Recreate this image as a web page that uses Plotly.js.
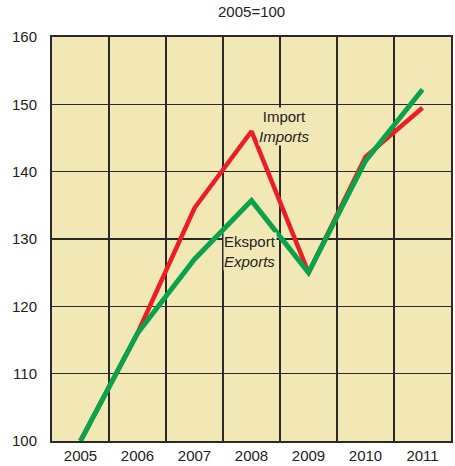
<!DOCTYPE html>
<html>
<head>
<meta charset="utf-8">
<script src="https://cdn.plot.ly/plotly-3.0.1.min.js"></script>
<style>html,body{margin:0;padding:0;background:#fff;}</style>
</head>
<body>
<div id="chart" style="width:455px;height:466px;"></div>
<script>
const years = ["2005","2006","2007","2008","2009","2010","2011"];
const imports = [100, 116, 134.6, 146, 125, 142.2, 149.5];
const exports_ = [100, 116, 127, 135.7, 125, 141.6, 152.2];
const yTicks = [100, 110, 120, 130, 140, 150, 160];

const FONT = "'Liberation Sans Narrow', 'Arial Narrow', 'Liberation Sans', Arial, sans-serif";
const BG = '#f1e8b6';

const traces = [
  {x: years, y: imports, type: 'scatter', mode: 'lines', name: 'Import',
   line: {color: '#ee1c25', width: 4.5}, hoverinfo: 'skip'},
  {x: years, y: exports_, type: 'scatter', mode: 'lines', name: 'Eksport',
   line: {color: '#0aa24b', width: 5}, hoverinfo: 'skip'}
];

const layout = {
  width: 455, height: 466,
  margin: {l: 52, r: 4, t: 37, b: 25},
  paper_bgcolor: '#ffffff',
  plot_bgcolor: BG,
  showlegend: false,
  font: {family: FONT, size: 15, color: '#222'},
  title: {text: '2005=100', x: 0.553, xanchor: 'center', y: 0.985, yanchor: 'top',
          font: {family: FONT, size: 15, color: '#222'}},
  xaxis: {
    type: 'category', range: [-0.5, 6.5], tickson: 'boundaries',
    showgrid: true, gridcolor: '#2a2a2a', gridwidth: 1.3,
    showline: true, linecolor: '#2a2a2a', linewidth: 2, mirror: true,
    ticks: 'outside', ticklen: 5, tickcolor: 'rgba(0,0,0,0)',
    tickfont: {family: FONT, size: 15, color: '#222'},
    zeroline: false, fixedrange: true
  },
  yaxis: {
    range: [100, 160], tickvals: yTicks, ticktext: yTicks.map(String),
    showgrid: true, gridcolor: '#2a2a2a', gridwidth: 1.3,
    showline: true, linecolor: '#2a2a2a', linewidth: 2, mirror: true,
    ticks: 'outside', ticklen: 10, tickcolor: 'rgba(0,0,0,0)',
    tickfont: {family: FONT, size: 15, color: '#222'},
    zeroline: false, fixedrange: true
  },
  annotations: [
    {x: 3.58, y: 146.7, xref: 'x', yref: 'y', text: 'Import<br><i>Imports</i>',
     showarrow: false, bgcolor: BG, borderpad: 0,
     font: {family: FONT, size: 15, color: '#222'}, align: 'center'},
    {x: 2.97, y: 128.2, xref: 'x', yref: 'y', text: 'Eksport<br><i>Exports</i>',
     showarrow: false, bgcolor: BG, borderpad: 0,
     font: {family: FONT, size: 15, color: '#222'}, align: 'center'}
  ]
};

Plotly.newPlot('chart', traces, layout, {displayModeBar: false, staticPlot: true});
</script>
</body>
</html>
